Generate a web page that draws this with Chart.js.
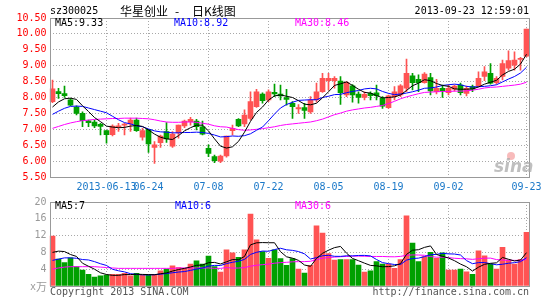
<!DOCTYPE html>
<html><head><meta charset="utf-8">
<script src="https://cdn.jsdelivr.net/npm/chart.js@4/dist/chart.umd.min.js"></script>
<style>
html,body{margin:0;padding:0;background:#fff;}
#wrap{position:relative;width:545px;height:300px;overflow:hidden;background:#fff;}
canvas{position:absolute;left:0;}
#c1{top:0;width:545px;height:195px;}
#c2{top:195px;width:545px;height:105px;}
</style></head><body>
<div id="wrap"><canvas id="c1" width="545" height="195"></canvas><canvas id="c2" width="545" height="105"></canvas></div>
<script>
const dates = ['05-28','05-29','05-30','05-31','06-03','06-04','06-05','06-06','06-07','06-13',
'06-14','06-17','06-18','06-19','06-20','06-21','06-24','06-25','06-26','06-27',
'06-28','07-01','07-02','07-03','07-04','07-05','07-08','07-09','07-10','07-11',
'07-12','07-15','07-16','07-17','07-18','07-19','07-22','07-23','07-24','07-25',
'07-26','07-29','07-30','07-31','08-01','08-02','08-05','08-06','08-07','08-08',
'08-09','08-12','08-13','08-14','08-15','08-16','08-19','08-20','08-21','08-22',
'08-23','08-26','08-27','08-28','08-29','08-30','09-02','09-03','09-04','09-05',
'09-06','09-09','09-10','09-11','09-12','09-13','09-16','09-17','09-18','09-23'];

const openP = [7.87,8.19,8.12,7.93,7.70,7.50,7.27,7.23,7.16,6.96,
6.83,7.08,7.13,7.17,7.29,6.75,7.00,6.43,6.58,6.93,
6.47,6.89,7.11,7.24,7.26,7.08,6.40,6.14,6.00,6.16,
6.96,7.31,7.17,7.34,7.71,8.11,7.92,8.16,8.11,8.00,
7.82,7.64,7.68,7.55,7.92,8.18,8.53,8.53,8.52,8.08,
8.37,8.11,8.00,8.13,8.15,7.97,7.68,8.03,8.08,8.29,
8.68,8.57,8.47,8.63,8.18,8.29,8.15,8.26,8.39,8.13,
8.34,8.36,8.66,8.76,8.47,8.66,8.92,9.02,9.20,9.30];
const highP = [8.55,8.29,8.36,7.97,7.74,7.55,7.29,7.29,7.19,6.96,
7.14,7.19,7.19,7.35,7.35,7.03,7.00,6.61,6.82,7.21,
6.93,7.13,7.29,7.38,7.31,7.26,6.51,6.19,6.19,6.79,
7.13,7.34,7.61,8.18,8.26,8.15,8.24,8.42,8.39,8.26,
7.87,7.78,7.82,8.03,8.45,8.76,8.76,8.66,8.66,8.50,
8.41,8.18,8.18,8.18,8.39,8.03,8.08,8.34,8.41,9.21,
8.76,8.71,8.78,8.76,8.57,8.39,8.39,8.39,8.45,8.36,
8.39,8.81,8.97,9.07,8.66,9.18,9.47,9.44,9.26,10.15];
const lowP = [7.84,7.97,8.00,7.74,7.45,7.08,7.08,7.05,6.82,6.56,
6.79,6.93,6.82,6.93,6.93,6.66,6.27,5.93,6.43,6.59,
6.43,6.72,7.05,7.13,6.98,6.82,6.14,5.95,5.95,6.12,
6.82,7.08,7.08,7.29,7.69,7.82,7.87,8.03,7.92,7.76,
7.34,7.50,7.34,7.50,7.85,8.16,8.24,8.29,7.78,8.03,
7.85,7.82,7.92,7.92,7.92,7.66,7.66,7.92,8.03,8.18,
8.24,8.18,8.45,8.08,8.11,8.00,8.08,8.20,8.08,8.05,
8.18,8.34,8.53,8.42,8.42,8.55,8.86,8.86,8.86,9.28];
const closeP = [8.27,8.12,8.06,7.76,7.50,7.27,7.21,7.11,7.09,6.83,
7.10,7.10,7.16,7.29,6.96,6.96,6.54,6.51,6.79,6.70,
6.85,7.13,7.26,7.31,7.08,6.85,6.24,6.01,6.16,6.79,
7.03,7.11,7.45,7.87,8.18,7.90,8.18,8.11,8.05,7.94,
7.71,7.68,7.59,7.92,8.18,8.60,8.60,8.60,8.15,8.48,
8.08,8.00,8.10,8.06,8.06,7.73,8.05,8.18,8.37,8.76,
8.47,8.47,8.74,8.21,8.29,8.21,8.29,8.36,8.15,8.29,
8.26,8.60,8.81,8.45,8.60,9.07,9.16,9.18,9.23,10.15];

const ma5 = [7.70,7.86,7.96,7.98,7.94,7.74,7.56,7.37,7.24,7.10,
7.07,7.05,7.06,7.10,7.12,7.09,6.98,6.85,6.75,6.70,
6.68,6.80,6.95,7.05,7.13,7.13,6.95,6.70,6.47,6.41,
6.45,6.62,6.91,7.25,7.53,7.70,7.92,8.05,8.08,8.04,
8.00,7.90,7.79,7.77,7.82,7.99,8.18,8.38,8.43,8.49,
8.38,8.26,8.16,8.14,8.06,7.99,8.00,8.02,8.08,8.22,
8.37,8.45,8.56,8.53,8.44,8.38,8.35,8.27,8.26,8.26,
8.27,8.33,8.42,8.48,8.54,8.71,8.82,8.89,9.05,9.36];
const ma10 = [7.47,7.57,7.66,7.72,7.73,7.72,7.67,7.62,7.57,7.52,
7.41,7.30,7.21,7.17,7.11,7.08,7.01,6.95,6.92,6.91,
6.89,6.89,6.90,6.90,6.91,6.90,6.87,6.82,6.76,6.77,
6.79,6.78,6.80,6.86,6.97,7.07,7.27,7.48,7.67,7.78,
7.85,7.91,7.92,7.93,7.93,8.00,8.04,8.09,8.10,8.15,
8.19,8.22,8.27,8.29,8.27,8.19,8.13,8.09,8.11,8.14,
8.18,8.23,8.29,8.30,8.33,8.38,8.40,8.42,8.40,8.35,
8.33,8.34,8.35,8.37,8.40,8.49,8.58,8.66,8.77,8.95];
const ma30 = [7.03,7.09,7.15,7.20,7.24,7.27,7.29,7.31,7.32,7.33,
7.34,7.34,7.35,7.35,7.35,7.34,7.33,7.30,7.26,7.23,
7.22,7.22,7.23,7.23,7.22,7.19,7.16,7.11,7.08,7.07,
7.03,6.99,6.97,6.98,7.00,7.02,7.05,7.08,7.12,7.15,
7.17,7.19,7.21,7.23,7.27,7.32,7.39,7.46,7.51,7.57,
7.61,7.64,7.67,7.69,7.72,7.75,7.81,7.88,7.96,8.02,
8.07,8.12,8.16,8.17,8.18,8.19,8.19,8.20,8.20,8.21,
8.23,8.26,8.30,8.32,8.33,8.35,8.37,8.39,8.42,8.48];

const volume = [11.9,6.4,5.6,6.7,4.6,3.8,2.8,2.1,2.4,2.6,
2.8,2.8,3.0,2.4,3.0,2.6,2.6,2.8,3.6,4.0,
4.8,4.4,4.2,5.2,6.0,5.2,7.1,4.6,3.3,8.6,
7.9,6.8,8.6,17.1,11.0,8.2,6.6,8.6,6.5,4.9,
6.5,4.0,3.1,4.9,14.3,12.6,7.7,6.2,6.3,6.3,
6.3,5.0,3.3,3.6,5.8,5.2,5.2,4.2,6.3,16.7,
10.2,5.8,7.0,8.0,6.6,7.9,3.8,3.8,4.0,3.4,
2.8,8.4,7.2,5.2,4.0,9.2,6.2,5.2,6.3,12.8];
const volMa5 = [8.0,8.3,8.2,7.5,7.04,5.42,4.70,4.00,3.14,2.74,
2.54,2.54,2.72,2.72,2.80,2.76,2.72,2.68,2.92,3.12,
3.56,3.92,4.20,4.52,4.92,5.00,5.54,5.62,5.24,5.76,
6.30,6.24,7.04,9.80,10.28,10.34,10.30,10.30,8.18,6.96,
6.62,6.10,5.00,4.68,6.56,7.78,8.52,9.14,9.42,7.82,
6.56,6.02,5.44,4.90,4.80,4.58,4.62,4.80,5.34,7.52,
8.52,8.64,9.20,9.54,7.52,7.06,6.66,6.02,5.22,4.58,
3.56,4.48,5.16,5.40,5.52,6.80,6.36,5.96,6.18,7.94];
const volMa10 = [6.1,6.4,6.7,6.7,6.6,6.3,6.2,5.8,5.3,4.89,
3.98,3.62,3.36,2.93,2.77,2.65,2.63,2.70,2.82,2.96,
3.16,3.32,3.44,3.72,4.02,4.28,4.73,4.91,4.88,5.34,
5.65,5.89,6.33,7.52,8.02,8.32,8.27,8.67,8.99,8.62,
8.48,8.20,7.65,6.43,6.76,7.20,7.31,7.07,7.05,7.19,
7.17,7.27,7.29,7.16,6.31,5.57,5.32,5.12,5.12,6.16,
6.55,6.63,7.00,7.44,7.52,7.79,7.65,7.61,7.38,6.05,
5.31,5.57,5.59,5.31,5.05,5.18,5.42,5.56,5.79,6.73];
const volMa30 = [4.0,4.3,4.5,4.6,4.6,4.6,4.6,4.6,4.5,4.4,
4.3,4.2,4.2,4.2,4.2,4.2,4.2,4.2,4.2,4.2,
4.2,4.3,4.3,4.3,4.3,4.3,4.3,4.2,4.2,4.40,
4.26,4.28,4.38,4.72,4.94,5.08,5.21,5.43,5.56,5.64,
5.76,5.80,5.81,5.89,6.27,6.60,6.77,6.88,6.97,7.05,
7.10,7.12,7.09,7.04,7.03,7.03,6.97,6.95,7.05,7.32,
7.40,7.37,7.31,7.01,6.86,6.85,6.76,6.60,6.52,6.47,
6.34,6.49,6.63,6.64,6.29,6.18,6.13,6.10,6.10,6.31];

const tickIdx = [9,16,26,36,46,56,66,79];
const tickText = ['2013-06-13','06-24','07-08','07-22','08-05','08-19','09-02','09-23'];
const priceRange = [5.5, 10.5, 0.5];
const volRange = [0, 20, 4];
const maText = ['MA5:9.33','MA10:8.92','MA30:8.46'];
const volMaText = ['MA5:7','MA10:6','MA30:6'];

const MONO = '"DejaVu Sans Mono", "Liberation Mono", monospace';
const CJK = '"Noto Sans CJK SC", sans-serif';
const UP = '#ff5353', DOWN = '#00a000';
const GRID = '#a8a8a8', BORDER = '#999999';
const candleColor = openP.map((o,i) => closeP[i] >= o ? UP : DOWN);

Chart.defaults.font.family = MONO;
Chart.defaults.font.size = 10;

function xScale(showLabels, h){
  return {
    type:'category', offset:true,
    grid:{offset:false, drawTicks:false, lineWidth:1,
      color:(c)=> tickIdx.includes(c.index) ? GRID : 'rgba(0,0,0,0)'},
    border:{display:false, dash:[1,2]},
    ticks:{display:showLabels, autoSkip:false, maxRotation:0, minRotation:0, padding:4,
      color:'#1a78c8', font:{family:MONO,size:10},
      callback:(v,i)=>{const k = tickIdx.indexOf(i); return k>=0 ? tickText[k] : '';}},
    afterFit:(s)=>{ s.height = h; s.paddingLeft = 0; s.paddingRight = 0; }
  };
}
function frame(ctx, ca){
  ctx.save();
  ctx.strokeStyle = BORDER; ctx.lineWidth = 1;
  const x0 = Math.round(ca.left)+0.5, x1 = Math.round(ca.right)-0.5;
  const y0 = Math.round(ca.top)+0.5, y1 = Math.round(ca.bottom)+0.5;
  ctx.strokeRect(x0, y0, x1-x0, y1-y0);
  ctx.restore();
}
const lineDs = (data,color)=>({type:'line', data, borderColor:color, borderWidth:1, pointRadius:0, tension:0, order:0, fill:false});

const mainTexts = {
  id:'mainTexts',
  afterDraw(chart){
    const ctx = chart.ctx, ca = chart.chartArea;
    frame(ctx, ca);
    ctx.save();
    ctx.textBaseline = 'middle';
    ctx.font = '10px ' + MONO;
    ctx.fillStyle = '#000'; ctx.textAlign = 'left';
    ctx.fillText('sz300025', 50, 11.5);
    ctx.textAlign = 'right';
    ctx.fillText('2013-09-23 12:59:01', 529, 11.5);
    ctx.textAlign = 'left';
    ctx.font = '12px ' + CJK;
    ctx.fillText('华星创业', 120, 11.5);
    ctx.fillText('-', 175, 11.5);
    ctx.fillText('日K线图', 192, 11.5);
    ctx.font = '10px ' + MONO;
    ctx.fillStyle = '#000'; ctx.fillText(maText[0], 55, 23.5);
    ctx.fillStyle = '#0000ff'; ctx.fillText(maText[1], 174, 23.5);
    ctx.fillStyle = '#ff00ff'; ctx.fillText(maText[2], 295, 23.5);
    // sina watermark
    ctx.fillStyle = 'rgba(246,170,170,0.8)';
    ctx.beginPath(); ctx.arc(511, 156, 4, 0, Math.PI*2); ctx.fill();
    ctx.font = 'italic bold 17px "DejaVu Sans", sans-serif';
    ctx.fillStyle = 'rgba(170,170,170,0.75)';
    ctx.textBaseline = 'alphabetic';
    ctx.fillText('sina', 494, 172);
    ctx.restore();
  }
};
const volTexts = {
  id:'volTexts',
  afterDraw(chart){
    const ctx = chart.ctx, ca = chart.chartArea;
    frame(ctx, ca);
    ctx.save();
    ctx.textBaseline = 'middle';
    ctx.font = '10px ' + MONO;
    ctx.textAlign = 'left';
    ctx.fillStyle = '#000'; ctx.fillText(volMaText[0], 55, 11);
    ctx.fillStyle = '#0000ff'; ctx.fillText(volMaText[1], 175, 11);
    ctx.fillStyle = '#ff00ff'; ctx.fillText(volMaText[2], 295, 11);
    ctx.fillStyle = '#999';
    ctx.fillText('x', 30, 92);
    ctx.font = '11px ' + CJK;
    ctx.fillText('万', 36, 92);
    ctx.font = '10px ' + MONO;
    ctx.fillStyle = '#555';
    ctx.fillText('Copyright 2013 SINA.COM', 50, 97.5);
    ctx.textAlign = 'right';
    ctx.fillText('http://finance.sina.com.cn', 529, 97.5);
    ctx.restore();
  }
};

new Chart(document.getElementById('c1'), {
  type:'bar',
  data:{
    labels: dates,
    datasets:[
      lineDs(ma5,'#000000'),
      lineDs(ma10,'#0000ff'),
      lineDs(ma30,'#ff00ff'),
      {type:'bar', data: lowP.map((l,i)=>[l, highP[i]]), backgroundColor:candleColor, barThickness:1, grouped:false, order:2, minBarLength:1},
      {type:'bar', data: openP.map((o,i)=>[o, closeP[i]]), backgroundColor:candleColor, barThickness:5, grouped:false, order:1, minBarLength:1}
    ]
  },
  options:{
    responsive:false, animation:false, devicePixelRatio:1,
    layout:{padding:{left:0.5, right:15.5, top:18, bottom:0}},
    plugins:{legend:{display:false}, tooltip:{enabled:false}},
    scales:{
      x: xScale(true, 18),
      y:{min:priceRange[0], max:priceRange[1],
        ticks:{stepSize:priceRange[2], color:'#ff0000', padding:3, font:{family:MONO,size:10},
          callback:(v)=>Number(v).toFixed(2)},
        grid:{drawTicks:false, color:GRID, lineWidth:1},
        border:{display:false, dash:[1,2]},
        afterFit:(s)=>{ s.width = 49; s.paddingTop = 0; s.paddingBottom = 0; }}
    }
  },
  plugins:[mainTexts]
});

new Chart(document.getElementById('c2'), {
  type:'bar',
  data:{
    labels: dates,
    datasets:[
      lineDs(volMa5,'#000000'),
      lineDs(volMa10,'#0000ff'),
      lineDs(volMa30,'#ff00ff'),
      {type:'bar', data: volume, backgroundColor:candleColor, barThickness:5, grouped:false, order:1}
    ]
  },
  options:{
    responsive:false, animation:false, devicePixelRatio:1,
    layout:{padding:{left:0.5, right:15.5, top:7, bottom:14}},
    plugins:{legend:{display:false}, tooltip:{enabled:false}},
    scales:{
      x: xScale(false, 0),
      y:{min:volRange[0], max:volRange[1],
        ticks:{stepSize:volRange[2], color:'#999999', padding:3, font:{family:MONO,size:10},
          callback:(v)=> v === 0 ? '' : String(v)},
        grid:{drawTicks:false, color:GRID, lineWidth:1},
        border:{display:false, dash:[1,2]},
        afterFit:(s)=>{ s.width = 49; s.paddingTop = 0; s.paddingBottom = 0; }}
    }
  },
  plugins:[volTexts]
});
</script>
</body></html>
